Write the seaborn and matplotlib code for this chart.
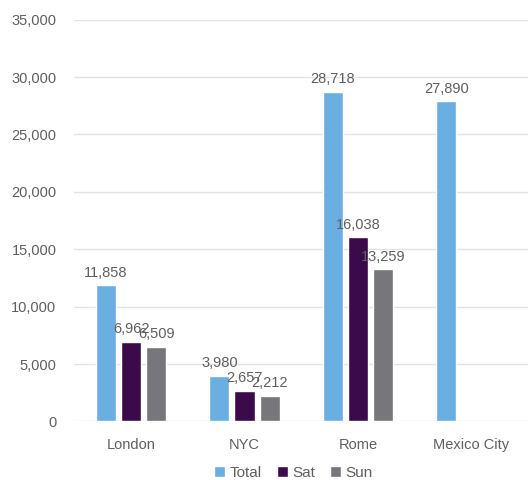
import matplotlib
matplotlib.use("Agg")
import matplotlib.pyplot as plt
import numpy as np
import pandas as pd
import seaborn as sns

cities = ["London", "NYC", "Rome", "Mexico City"]
total = [11858, 3980, 28718, 27890]
sat = [6962, 2657, 16038, np.nan]
sun = [6509, 2212, 13259, np.nan]
series = ["Total", "Sat", "Sun"]
colors = ["#6aaee2", "#3b0a4a", "#76767b"]
yticks = [0, 5000, 10000, 15000, 20000, 25000, 30000, 35000]

df = pd.DataFrame({"city": cities, "Total": total, "Sat": sat, "Sun": sun})
long = df.melt(id_vars="city", value_vars=series, var_name="series", value_name="value")

sns.set_theme(style="white")
plt.rcParams["font.family"] = ["Liberation Sans", "DejaVu Sans"]
text_color = "#5f5f5f"

fig = plt.figure(figsize=(5.28, 4.8), dpi=100)
ax = fig.add_axes([0.141, 0.122, 0.859, 0.837])

sns.barplot(data=long, x="city", y="value", hue="series", order=cities,
            hue_order=series, palette=colors, width=0.664, gap=0.2,
            saturation=1, ax=ax, legend=True, errorbar=None)

for cont in ax.containers:
    ax.bar_label(cont, labels=[f"{v:,.0f}" for v in cont.datavalues],
                 padding=4, fontsize=10.5, color=text_color)

ax.set_ylim(0, 35000)
ax.set_xlim(-0.5, 3.5)
ax.set_yticks(yticks)
ax.set_yticklabels([f"{v:,}" for v in yticks])
ax.yaxis.grid(True, color="#e3e3e3", linewidth=1)
ax.set_axisbelow(True)
for s in ax.spines.values():
    s.set_visible(False)
ax.tick_params(axis="y", length=0, pad=13, labelsize=10.5, labelcolor=text_color)
ax.tick_params(axis="x", length=0, pad=12, labelsize=10.5, labelcolor=text_color)
ax.set_xlabel("")
ax.set_ylabel("")

handles, labels = ax.get_legend_handles_labels()
ax.get_legend().remove()
fig.legend(handles, labels, loc="center", bbox_to_anchor=(0.556, 0.015), ncol=3,
           frameon=False, fontsize=11, handlelength=0.7, handleheight=0.7,
           handletextpad=0.3, columnspacing=1.0, labelcolor=text_color,
           borderaxespad=0, borderpad=0)

fig.savefig("out.png", dpi=100)
